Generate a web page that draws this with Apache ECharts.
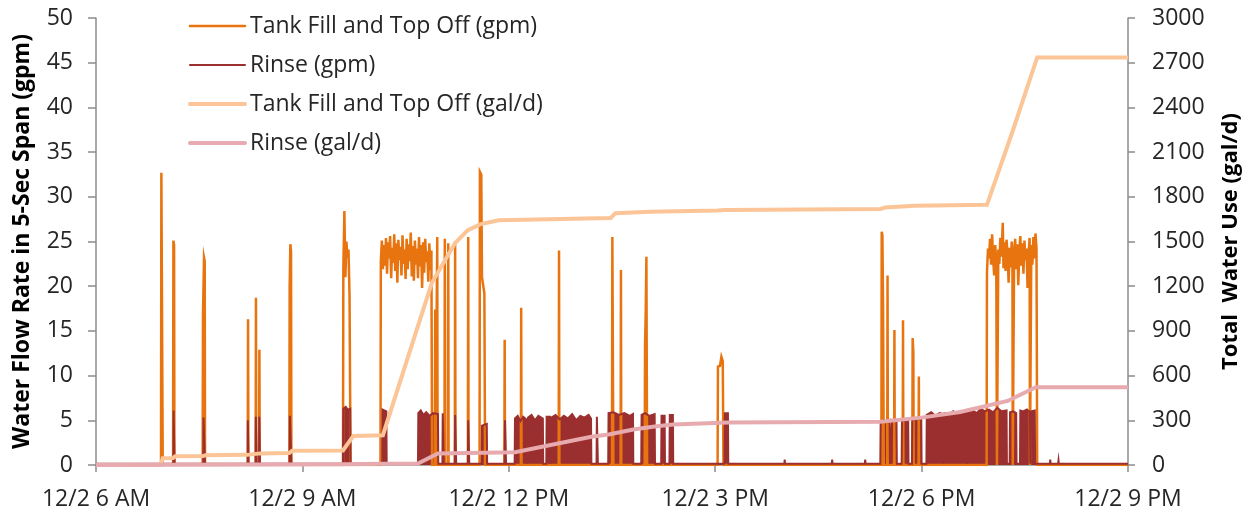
<!DOCTYPE html>
<html>
<head>
<meta charset="utf-8">
<script src="https://cdn.jsdelivr.net/npm/echarts@6/dist/echarts.min.js"></script>
<style>
  html, body { margin: 0; padding: 0; background: #ffffff; }
  #chart { width: 1257px; height: 519px; }
</style>
</head>
<body>
<div id="chart"></div>
<script>
// Hours of the day (12/2) where the x-axis is labelled
const xTickHours = [6, 9, 12, 15, 18, 21];
const xTickLabels = ['12/2 6 AM', '12/2 9 AM', '12/2 12 PM', '12/2 3 PM', '12/2 6 PM', '12/2 9 PM'];

const seriesNames = [
  'Tank Fill and Top Off (gpm)',
  'Rinse (gpm)',
  'Tank Fill and Top Off (gal/d)',
  'Rinse (gal/d)'
];

// Tank fill / top-off flow rate, [hour, gpm]
const tankFillGpm = [
  [6.00, 0], [6.945, 0], [6.95, 32.7], [6.965, 32.7], [6.97, 0],
  [7.12, 0], [7.125, 25.1], [7.135, 24.6], [7.14, 0],
  [7.55, 0], [7.555, 16.7], [7.565, 16.7], [7.57, 23.2], [7.58, 22.8], [7.585, 0],
  [8.205, 0], [8.21, 16.3], [8.215, 0],
  [8.32, 0], [8.325, 18.7], [8.33, 0],
  [8.37, 0], [8.375, 12.9], [8.38, 0],
  [8.81, 0], [8.815, 20.1], [8.825, 24.7], [8.835, 23.9], [8.84, 0],
  [9.59, 0], [9.595, 22.0], [9.61, 28.4], [9.625, 21.0], [9.64, 25.0], [9.655, 23.2], [9.67, 24.1], [9.685, 19.0], [9.70, 0],
  [10.135, 0], [10.14, 22.8], [10.155, 25.1], [10.17, 21.9], [10.185, 24.6], [10.20, 22.3], [10.215, 25.4],
  [10.23, 21.4], [10.245, 24.9], [10.26, 23.1], [10.275, 25.6], [10.29, 20.9], [10.305, 24.3], [10.32, 22.6],
  [10.335, 25.8], [10.35, 21.7], [10.365, 24.8], [10.38, 20.4], [10.395, 25.2], [10.41, 22.9], [10.425, 24.4],
  [10.44, 21.2], [10.455, 25.7], [10.47, 22.5], [10.485, 24.1], [10.50, 20.8], [10.515, 25.3], [10.53, 21.9],
  [10.545, 24.7], [10.56, 22.8], [10.575, 26.0], [10.59, 21.1], [10.605, 24.5], [10.62, 20.6], [10.635, 25.1],
  [10.65, 22.4], [10.665, 24.2], [10.68, 20.9], [10.695, 25.5], [10.71, 22.2], [10.725, 24.6], [10.74, 19.8],
  [10.755, 24.9], [10.77, 21.5], [10.785, 25.3], [10.80, 22.7], [10.815, 23.9], [10.83, 20.5], [10.845, 24.8],
  [10.86, 21.8], [10.875, 24.0], [10.885, 0],
  [10.925, 0], [10.93, 17.4], [10.935, 0],
  [10.955, 0], [10.96, 25.5], [10.965, 0],
  [11.065, 0], [11.07, 25.3], [11.075, 0],
  [11.115, 0], [11.12, 24.8], [11.125, 0],
  [11.215, 0], [11.22, 25.0], [11.225, 0],
  [11.405, 0], [11.41, 25.5], [11.415, 0],
  [11.575, 0], [11.58, 32.8], [11.60, 32.5], [11.61, 21.0], [11.645, 19.2], [11.655, 0],
  [11.935, 0], [11.94, 14.0], [11.945, 0],
  [12.175, 0], [12.18, 17.6], [12.185, 0],
  [12.725, 0], [12.73, 24.0], [12.735, 0],
  [13.50, 0], [13.505, 25.5], [13.515, 25.7], [13.52, 0],
  [13.625, 0], [13.63, 21.8], [13.635, 0],
  [13.975, 0], [13.98, 13.4], [13.99, 17.0], [14.00, 23.3], [14.01, 0],
  [15.035, 0], [15.04, 11.0], [15.07, 11.1], [15.09, 12.1], [15.11, 11.6], [15.12, 0],
  [17.415, 0], [17.42, 26.1], [17.43, 25.7], [17.44, 18.1], [17.45, 0],
  [17.50, 0], [17.505, 21.2], [17.51, 0],
  [17.60, 0], [17.605, 15.1], [17.61, 0],
  [17.725, 0], [17.73, 16.2], [17.735, 0],
  [17.865, 0], [17.87, 14.2], [17.88, 12.6], [17.885, 0],
  [17.955, 0], [17.96, 9.9], [17.965, 0],
  [18.945, 0], [18.95, 21.5], [18.965, 24.2], [18.98, 23.1], [18.995, 25.3], [19.01, 22.4], [19.025, 25.8],
  [19.04, 23.0], [19.055, 21.2], [19.07, 24.6], [19.085, 22.8], [19.095, 0], [19.105, 0], [19.115, 24.1],
  [19.13, 22.5], [19.145, 25.4], [19.16, 23.3], [19.18, 27.1], [19.19, 22.0], [19.205, 24.9], [19.22, 21.7],
  [19.235, 25.2], [19.25, 23.6], [19.265, 20.4], [19.28, 24.3], [19.295, 22.1], [19.31, 25.0], [19.32, 23.4],
  [19.325, 0], [19.335, 0], [19.345, 23.8], [19.36, 25.3], [19.375, 21.9], [19.39, 24.7], [19.405, 20.1],
  [19.42, 23.9], [19.435, 25.6], [19.45, 22.3], [19.465, 24.8], [19.48, 21.4], [19.495, 25.1], [19.51, 22.9],
  [19.525, 24.2], [19.54, 19.8], [19.555, 23.7], [19.57, 25.4], [19.575, 0], [19.585, 0], [19.595, 24.6],
  [19.61, 22.4], [19.625, 25.5], [19.64, 23.1], [19.655, 25.9], [19.67, 24.3], [19.68, 0],
  [21.00, 0]
];

// Rinse flow rate, [hour, gpm]
const rinseGpm = [
  [6.00, 0.15],
  [7.125, 0.15], [7.128, 6.1], [7.138, 6.1], [7.142, 0.15],
  [7.56, 0.15], [7.563, 5.3], [7.58, 5.3], [7.584, 0.15],
  [8.205, 0.15], [8.207, 5.0], [8.214, 5.0], [8.217, 0.15],
  [8.32, 0.15], [8.323, 5.4], [8.332, 5.4], [8.335, 0.15],
  [8.37, 0.15], [8.373, 5.4], [8.381, 5.4], [8.384, 0.15],
  [8.815, 0.15], [8.818, 5.5], [8.836, 5.5], [8.84, 0.15],
  [9.59, 0.15], [9.595, 6.3], [9.63, 6.5], [9.66, 6.2], [9.695, 6.3], [9.70, 0.15],
  [10.16, 0.15], [10.165, 6.2], [10.22, 6.0], [10.225, 0.15],
  [10.68, 0.15], [10.685, 5.8], [10.72, 6.1], [10.76, 5.6], [10.80, 5.9], [10.85, 5.5], [10.90, 5.8], [10.97, 5.7], [10.975, 0.15],
  [11.035, 0.15], [11.04, 5.8], [11.05, 5.8], [11.055, 0.15],
  [11.215, 0.15], [11.22, 5.6], [11.23, 5.6], [11.235, 0.15],
  [11.405, 0.15], [11.41, 5.0], [11.42, 5.0], [11.425, 0.15],
  [11.605, 0.15], [11.61, 4.4], [11.68, 4.6], [11.685, 0.15],
  [11.94, 0.15], [11.945, 5.0], [11.955, 5.0], [11.96, 0.15],
  [12.085, 0.15], [12.09, 5.2], [12.13, 5.5], [12.17, 4.9], [12.21, 5.4], [12.255, 5.1], [12.26, 0.15],
  [12.275, 0.15], [12.28, 5.3], [12.33, 5.6], [12.38, 5.0], [12.43, 5.5], [12.495, 5.2], [12.50, 0.15],
  [12.545, 0.15], [12.55, 5.4], [12.60, 5.4], [12.605, 0.15],
  [12.615, 0.15], [12.62, 5.3], [12.68, 5.6], [12.74, 5.1], [12.80, 5.5], [12.86, 5.2], [12.92, 5.7],
  [12.98, 5.0], [13.04, 5.5], [13.10, 5.3], [13.16, 5.6], [13.195, 5.2], [13.20, 0.15],
  [13.275, 0.15], [13.28, 5.4], [13.29, 5.4], [13.295, 0.15],
  [13.445, 0.15], [13.45, 5.8], [13.52, 5.9], [13.60, 5.6], [13.68, 5.8], [13.76, 5.5], [13.805, 5.7], [13.81, 0.15],
  [13.925, 0.15], [13.93, 5.6], [13.98, 5.8], [14.04, 5.5], [14.12, 5.7], [14.125, 0.15],
  [14.215, 0.15], [14.22, 5.5], [14.265, 5.5], [14.27, 0.15],
  [14.335, 0.15], [14.34, 5.6], [14.385, 5.6], [14.39, 0.15],
  [15.135, 0.15], [15.14, 5.8], [15.185, 5.8], [15.19, 0.15],
  [16.005, 0.15], [16.01, 0.6], [16.015, 0.15],
  [16.695, 0.15], [16.70, 0.6], [16.705, 0.15],
  [17.175, 0.15], [17.18, 0.6], [17.185, 0.15],
  [17.40, 0.15], [17.405, 4.9], [17.45, 5.0], [17.50, 4.8], [17.535, 5.0], [17.54, 0.15],
  [17.565, 0.15], [17.57, 4.9], [17.635, 5.0], [17.64, 0.15],
  [17.71, 0.15], [17.715, 5.1], [17.76, 4.9], [17.805, 5.0], [17.81, 0.15],
  [17.86, 0.15], [17.865, 5.0], [17.93, 5.2], [17.995, 5.1], [18.00, 0.15],
  [18.07, 0.15], [18.075, 5.6], [18.14, 5.9], [18.20, 5.5], [18.26, 5.8], [18.315, 5.7], [18.32, 0.15],
  [18.33, 0.15], [18.335, 5.8], [18.40, 5.6], [18.46, 6.0], [18.52, 5.7], [18.58, 5.9], [18.655, 5.8], [18.66, 0.15],
  [18.67, 0.15], [18.675, 5.9], [18.74, 6.1], [18.80, 5.8], [18.86, 6.3], [18.92, 6.0], [18.98, 6.2],
  [19.04, 5.9], [19.10, 6.4], [19.16, 6.0], [19.235, 6.1], [19.24, 0.15],
  [19.28, 0.15], [19.285, 5.9], [19.33, 6.0], [19.375, 5.8], [19.38, 0.15],
  [19.43, 0.15], [19.435, 6.1], [19.48, 6.0], [19.53, 6.2], [19.575, 5.9], [19.58, 0.15],
  [19.59, 0.15], [19.595, 6.0], [19.645, 6.1], [19.65, 0.15],
  [19.865, 0.15], [19.87, 0.6], [19.875, 0.15],
  [19.985, 0.15], [19.99, 0.5], [19.995, 0.15],
  [21.00, 0.15]
];

// Running daily total of tank fill / top-off water, [hour, gal/d]
const tankFillGalPerDay = [
  [6.00, 0], [6.94, 0], [6.97, 45], [7.12, 47], [7.15, 58], [7.56, 60], [7.59, 66],
  [8.20, 68], [8.39, 78], [8.81, 80], [8.85, 96], [9.59, 98], [9.74, 195], [10.17, 200],
  [10.88, 1221], [11.22, 1490], [11.40, 1575], [11.58, 1615], [11.85, 1642], [13.48, 1658],
  [13.55, 1690], [14.05, 1700], [15.04, 1708], [15.15, 1712], [17.40, 1718], [17.47, 1728],
  [17.90, 1740], [18.95, 1746], [19.33, 2250], [19.68, 2735], [21.00, 2735]
];

// Running daily total of rinse water, [hour, gal/d]
const rinseGalPerDay = [
  [6.00, 0], [7.13, 2], [9.60, 5], [10.20, 8], [10.68, 10], [10.97, 78], [12.09, 86],
  [13.20, 190], [13.45, 205], [13.81, 238], [14.12, 258], [14.39, 272], [15.19, 286],
  [17.40, 290], [18.00, 318], [18.56, 356], [19.25, 430], [19.66, 522], [21.00, 522]
];

const FONT = '"Open Sans", "Noto Sans", sans-serif';
const axisGrey = '#8c8c8c';

const chart = echarts.init(document.getElementById('chart'), null, { renderer: 'canvas' });

function lineSeries(name, data, color, width, yAxisIndex, filled) {
  const s = {
    name: name,
    type: 'line',
    data: data,
    yAxisIndex: yAxisIndex,
    symbol: 'none',
    showSymbol: false,
    smooth: false,
    animation: false,
    lineStyle: { color: color, width: width, join: 'miter' },
    itemStyle: { color: color },
    emphasis: { disabled: true }
  };
  if (filled) s.areaStyle = { color: color, opacity: 1 };
  return s;
}

chart.setOption({
  backgroundColor: '#ffffff',
  animation: false,
  grid: { left: 96, right: 129, top: 18, bottom: 54, containLabel: false },
  legend: {
    orient: 'vertical',
    left: 188,
    top: 14,
    padding: 0,
    itemWidth: 55,
    itemHeight: 14,
    itemGap: 15,
    data: seriesNames,
    // only the line is shown in each legend key, as thick as the series line
    itemStyle: { opacity: 0, color: 'rgba(0,0,0,0)', borderWidth: 0 },
    lineStyle: { width: 'inherit', cap: 'round' },
    textStyle: { fontFamily: FONT, fontSize: 23, color: '#262626', lineHeight: 24 }
  },
  xAxis: {
    type: 'value',
    min: 6,
    max: 21,
    interval: 3,
    splitLine: { show: false },
    axisLine: { show: true, onZero: false, lineStyle: { color: axisGrey, width: 1.5 } },
    axisTick: { show: true, length: 7, lineStyle: { color: axisGrey, width: 1.5 } },
    axisLabel: {
      margin: 23,
      fontFamily: FONT,
      fontSize: 23,
      color: '#262626',
      formatter: function (v) {
        const i = xTickHours.indexOf(v);
        return i >= 0 ? xTickLabels[i] : '';
      }
    }
  },
  yAxis: [
    {
      type: 'value',
      position: 'left',
      min: 0,
      max: 50,
      interval: 5,
      name: 'Water Flow Rate in 5-Sec Span (gpm)',
      nameLocation: 'middle',
      nameRotate: 90,
      nameGap: 62,
      nameTextStyle: { fontFamily: FONT, fontSize: 23, fontWeight: 'bold', color: '#000000' },
      splitLine: { show: false },
      axisLine: { show: true, lineStyle: { color: axisGrey, width: 1.5 } },
      axisTick: { show: true, length: 8, lineStyle: { color: axisGrey, width: 1.5 } },
      axisLabel: { margin: 23, fontFamily: FONT, fontSize: 23, color: '#262626' }
    },
    {
      type: 'value',
      position: 'right',
      min: 0,
      max: 3000,
      interval: 300,
      name: 'Total  Water Use (gal/d)',
      nameLocation: 'middle',
      nameRotate: 90,
      nameGap: 92,
      nameTextStyle: { fontFamily: FONT, fontSize: 22, fontWeight: 'bold', color: '#000000' },
      splitLine: { show: false },
      axisLine: { show: true, lineStyle: { color: axisGrey, width: 1.5 } },
      axisTick: { show: true, length: 7, lineStyle: { color: axisGrey, width: 1.5 } },
      axisLabel: {
        margin: 24,
        fontFamily: FONT,
        fontSize: 23,
        color: '#262626',
        formatter: function (v) { return String(v); }
      }
    }
  ],
  series: [
    lineSeries(seriesNames[0], tankFillGpm, '#E8740F', 2.5, 0, false),
    lineSeries(seriesNames[1], rinseGpm, '#9B2F2F', 2, 0, true),
    lineSeries(seriesNames[2], tankFillGalPerDay, '#FBC597', 4, 1, false),
    lineSeries(seriesNames[3], rinseGalPerDay, '#E6AAAF', 4, 1, false)
  ]
});
</script>
</body>
</html>
